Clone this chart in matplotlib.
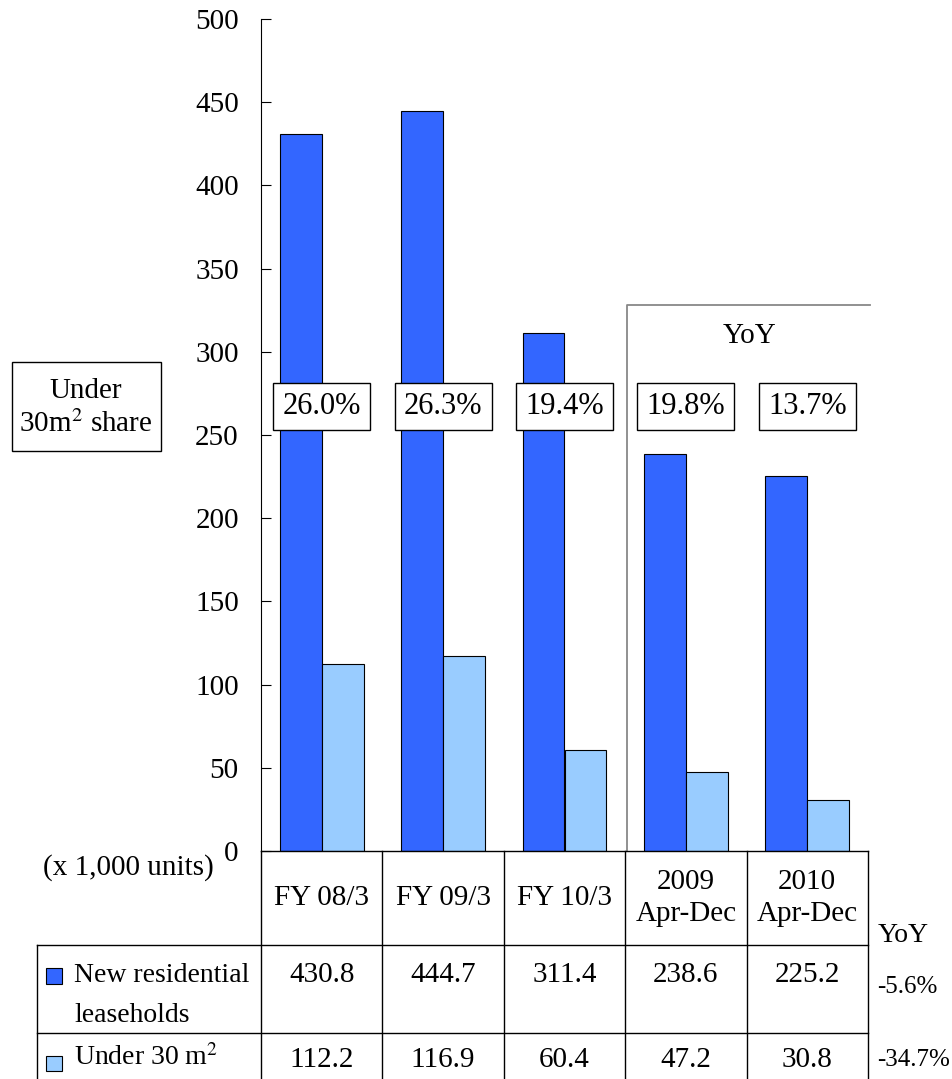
import matplotlib.pyplot as plt
from matplotlib.patches import Rectangle

plt.rcParams['font.family'] = ['Liberation Serif', 'DejaVu Serif']
plt.rcParams['mathtext.fontset'] = 'stix'

periods = ["FY 08/3", "FY 09/3", "FY 10/3", "2009\nApr-Dec", "2010\nApr-Dec"]
new_leaseholds = [430.8, 444.7, 311.4, 238.6, 225.2]
under_30 = [112.2, 116.9, 60.4, 47.2, 30.8]
share_labels = ["26.0%", "26.3%", "19.4%", "19.8%", "13.7%"]
yoy_labels = ["-5.6%", "-34.7%"]

dark = "#3366FF"
light = "#99CCFF"
FS = 21

W, H = 953, 1079
fig = plt.figure(figsize=(W / 100, H / 100), dpi=100)

# pixel helper for figure-level placement
def fx(x):
    return x / W

def fy(y):
    return 1 - y / H

ax_left, ax_right, ax_top, ax_bot = 261, 868, 19, 851
ax = fig.add_axes([fx(ax_left), fy(ax_bot), fx(ax_right - ax_left), (ax_bot - ax_top) / H])

n = len(periods)
xs = list(range(n))
bw = 0.345
ax.bar([x - bw / 2 for x in xs], new_leaseholds, bw, color=dark, edgecolor="black", linewidth=0.8)
ax.bar([x + bw / 2 for x in xs], under_30, bw, color=light, edgecolor="black", linewidth=0.8)

ax.set_xlim(-0.5, n - 0.5)
ax.set_ylim(0, 500)
ax.set_yticks(range(0, 501, 50))
ax.tick_params(axis="y", direction="in", length=7, width=0.8, labelsize=FS, pad=16)
ax.set_xticks([])
for s in ["top", "right", "bottom"]:
    ax.spines[s].set_visible(False)
ax.spines["left"].set_linewidth(0.8)

# share boxes
for x, lab in zip(xs, share_labels):
    ax.text(x, 267, lab, ha="center", va="center", fontsize=22,
            bbox=dict(boxstyle="square,pad=0.3", fc="white", ec="black", lw=1.0))

# overlay axes in pixel coordinates for the table and annotations
ov = fig.add_axes([0, 0, 1, 1])
ov.set_xlim(0, W)
ov.set_ylim(H, 0)
ov.axis("off")

# YoY bracket
ov.plot([627, 627, 870], [851, 305, 305], color="#888888", lw=1.3)
ov.text(750, 336, "YoY", ha="center", va="center", fontsize=FS)

# share label box
ov.add_patch(Rectangle((12, 362), 149, 89, fill=False, ec="black", lw=1.0))
ov.text(86, 408, "Under\n30m$^2$ share", ha="center", va="center", fontsize=FS, linespacing=1.25)

ov.text(128, 868, "(x 1,000 units)", ha="center", va="center", fontsize=FS)

# table grid
col_edges = [261 + i * 121.4 for i in range(n + 1)]
lc = "black"
ov.plot([ax_left, col_edges[-1]], [851, 851], color=lc, lw=1.0)
for cx in col_edges:
    ov.plot([cx, cx], [851, H], color=lc, lw=1.0)
ov.plot([37, 37], [945, H], color=lc, lw=1.0)
for ry in [945, 1033]:
    ov.plot([37, col_edges[-1]], [ry, ry], color=lc, lw=1.0)

for i, lab in enumerate(periods):
    cx = (col_edges[i] + col_edges[i + 1]) / 2
    ov.text(cx, 898, lab, ha="center", va="center", fontsize=FS, linespacing=1.3)
    ov.text(cx, 975, f"{new_leaseholds[i]:.1f}", ha="center", va="center", fontsize=FS)
    ov.text(cx, 1060, f"{under_30[i]:.1f}", ha="center", va="center", fontsize=FS)

# row labels with colour keys
ov.add_patch(Rectangle((46, 968), 16, 16, fc=dark, ec="black", lw=0.8))
ov.text(74, 976, "New residential", ha="left", va="center", fontsize=20)
ov.text(74, 1015, "leaseholds", ha="left", va="center", fontsize=20)
ov.add_patch(Rectangle((46, 1056), 16, 15, fc=light, ec="black", lw=0.8))
ov.text(74, 1058, "Under 30 m$^2$", ha="left", va="center", fontsize=20)

ov.text(878, 936, "YoY", ha="left", va="center", fontsize=20)
ov.text(877, 987, yoy_labels[0], ha="left", va="center", fontsize=18)
ov.text(877, 1060, yoy_labels[1], ha="left", va="center", fontsize=18)

fig.savefig("out.png", dpi=100)
